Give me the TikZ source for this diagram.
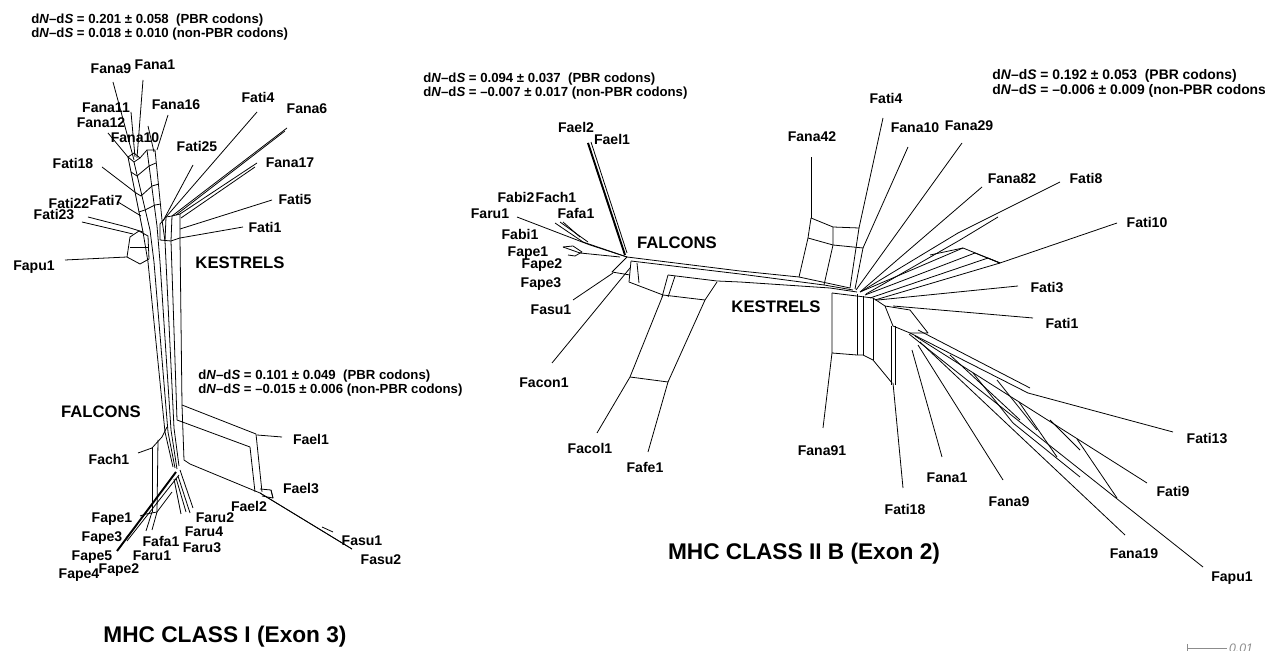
\documentclass[tikz,border=0pt]{standalone}
\usepackage{fontspec}
\setmainfont{Liberation Sans}
\begin{document}
\begin{tikzpicture}[x=0.02cm, y=-0.02cm, line join=round,
    net/.style={line width=0.45pt},
    heavynet/.style={line width=1.1pt},
    taxon/.style={font=\fontsize{8}{9}\selectfont\bfseries, inner sep=0pt, text height=5.8pt, text depth=0pt},
    clade/.style={font=\fontsize{9.5}{11}\selectfont\bfseries, inner sep=0pt},
    panel/.style={font=\fontsize{12.9}{15}\selectfont\bfseries, inner sep=0pt},
    dnds/.style={font=\fontsize{7.5}{8.4}\selectfont\bfseries, inner sep=0pt, align=left, anchor=west}]
  \useasboundingbox (0,0) rectangle (1265,651);

  % ---------- MHC class I (exon 3) ----------
  \foreach \name/\lx/\ly/\tx/\ty/\bx/\by in {
      Fana9/111/68/113/82/134/160, Fana1/155/64/143/80/137/158,
      Fana11/106/107/131/112/135/157, Fana16/176/104/168/115/157/150,
      Fana12/101/122/108/133/128/157, Fana10/135/137/148/126/154/152,
      Fati25/197/146/193/165/163/221, Fati4/258/97/257/112/166/217,
      Fana6/307/108/287/128/172/216, Fati18/73/163/102/167/136/193,
      Fana17/290/162/257/163/180/214, Fati5/295/199/272/200/180/229,
      Fati7/106/200/118/202/141/216, Fati22/69/203/88/217/127/227,
      Fati23/54/214/82/222/133/234, Fati1/265/227/243/227/180/238,
      Fapu1/34/265/65/260/127/257, Fael1/311/439/282/437/257/435,
      Fach1/109/459/138/453/152/448, Fael3/301/488/273/498/271/490,
      Fael2/249/506/260/493/260/493, Faru2/215/517/190/513/178/476,
      Faru4/204/531/186/512/176/478, Faru3/202/547/181/514/174/479,
      Fafa1/161/541/152/530/157/512, Faru1/152/555/146/531/152/512,
      Fape1/112/517/140/516/146/514, Fape3/102/536/126/538/131/532,
      Fape5/92/555/117/551/117/551, Fape4/79/573/117/552/117/552,
      Fape2/119/568/122/547/122/547, Fasu1/362/540/333/532/322/527,
      Fasu2/381/559/352/549/260/493} {
    \node[taxon] (a-\name) at (\lx,\ly) {\name};
    \coordinate (a-\name-tip) at (\tx,\ty);
    \draw[net] (\bx,\by) -- (a-\name-tip);
  }
  % kestrel web
  \draw[net] (128,157) -- (134,162) -- (140,158) -- (134,153) -- cycle;
  \draw[net] (140,158) -- (147,150) -- (155,150);
  \draw[net] (128,157) -- (143,232);
  \draw[net] (134,162) -- (150,230);
  \draw[net] (147,150) -- (157,226);
  \draw[net] (155,150) -- (162,220);
  \draw[net] (131,172) -- (137,176) -- (149,166) -- (156,163);
  \draw[net] (136,193) -- (141,196) -- (152,186) -- (159,184);
  \draw[net] (139,212) -- (145,210) -- (155,205) -- (161,204);
  \draw[net] (160,224) -- (166,217) -- (172,216) -- (180,214) -- (180,238) -- (171,241) -- (160,240) -- cycle;
  \draw[net] (166,217) -- (165,241);
  \draw[net] (172,216) -- (171,241);
  \draw[net] (285,131) -- (176,215);
  \draw[net] (255,167) -- (181,218);
  \draw[net] (127,257) -- (130,237) -- (139,231) -- (148,236) -- (149,259) -- (140,264) -- cycle;
  \draw[net] (130,247) -- (149,247);
  \draw[net] (127,227) -- (143,232);
  % trunk
  \draw[net] (143,232) -- (148,262) -- (165,432) -- (173,467);
  \draw[net] (150,230) -- (154,262) -- (168,432) -- (175,468);
  \draw[net] (157,226) -- (160,262) -- (171,430) -- (177,469);
  \draw[net] (162,220) -- (165,241) -- (174,428) -- (179,466);
  \draw[net] (171,241) -- (177,420) -- (250,447) -- (255,492);
  \draw[net] (180,238) -- (182,405) -- (256,434) -- (262,492);
  \draw[net] (182,405) -- (184,460) -- (190,464) -- (260,493) -- (352,549);
  % falcon web
  \draw[net] (260,489) -- (271,490) -- (273,498) -- (262,496);
  \draw[net] (152,448) -- (162,437) -- (167,427);
  \draw[net] (152,448) -- (152,512);
  \draw[net] (158,440) -- (157,512);
  \draw[heavynet] (176,472) -- (117,551);
  \draw[net] (179,475) -- (127,541);
  \draw[net] (146,514) -- (157,512) -- (172,492);
  \draw[net] (180,470) -- (193,508);
  \node[clade] (kestrelsI) at (240,263) {KESTRELS};
  \node[clade] (falconsI) at (101,412) {FALCONS};
  \node[dnds] (dndsKI) at (31,27) {d\textit{N}--d\textit{S} = 0.201 ± 0.058~~(PBR codons)\\d\textit{N}--d\textit{S} = 0.018 ± 0.010 (non-PBR codons)};
  \node[dnds] (dndsFI) at (198,383) {d\textit{N}--d\textit{S} = 0.101 ± 0.049~~(PBR codons)\\d\textit{N}--d\textit{S} = --0.015 ± 0.006 (non-PBR codons)};
  \node[panel] (titleI) at (225,637) {MHC CLASS I (Exon 3)};

  % ---------- MHC class II B (exon 2) ----------
  \foreach \name/\lx/\ly/\tx/\ty/\bx/\by in {
      Fael2/576/127/588/143/625/255, Fael1/612/139/591/142/627/253,
      Fabi2/516/197/555/223/583/242, Fach1/556/197/560/222/588/242,
      Faru1/490/213/517/217/590/245, Fafa1/576/213/563/222/580/237,
      Fabi1/520/234/563/247/563/247, Fape1/528/251/563/247/580/253,
      Fape2/542/263/568/255/568/255, Fape3/541/282/570/257/570/257,
      Fasu1/551/309/573/300/613/273, Facon1/544/382/552/363/630/268,
      Facol1/590/448/597/433/630/377, Fafe1/645/467/648/452/668/382,
      Fati4/886/98/883/118/859/228, Fana10/915/127/908/147/863/248,
      Fana29/969/125/962/143/856/290, Fana42/812/136/811/157/811/218,
      Fana82/1012/178/982/187/860/292, Fati8/1086/178/1060/182/958/233,
      Fati10/1147/222/1117/223/1000/263, Fati3/1047/287/1018/286/878/300,
      Fati1/1062/323/1033/318/893/306, Fati13/1207/438/1173/432/1028/393,
      Fana91/822/450/823/428/832/353, Fana1/947/477/942/457/912/350,
      Fati9/1173/491/1147/483/915/336, Fati18/905/509/903/488/893/383,
      Fana9/1009/501/1003/480/918/345, Fana19/1134/553/1125/535/920/342,
      Fapu1/1232/576/1203/567/909/334} {
    \node[taxon] (b-\name) at (\lx,\ly) {\name};
    \coordinate (b-\name-tip) at (\tx,\ty);
    \draw[net] (\bx,\by) -- (b-\name-tip);
  }
  % falcon side
  \draw[heavynet] (588,143) -- (625,255);
  \draw[net] (583,242) -- (627,257);
  \draw[net] (590,245) -- (627,257);
  \draw[net] (563,247) -- (573,246) -- (582,252) -- (575,256) -- (568,255);
  \draw[net] (580,253) -- (620,257);
  \draw[net] (627,257) -- (612,272) -- (630,275);
  \draw[net] (631,261) -- (629,282) -- (663,295) -- (705,300);
  \draw[net] (637,263) -- (639,283);
  \draw[net] (668,275) -- (662,297);
  \draw[net] (675,276) -- (668,297);
  \draw[net] (630,377) -- (663,295);
  \draw[net] (630,377) -- (668,382) -- (705,300) -- (717,282);
  % central band
  \draw[net] (627,257) -- (740,271) -- (799,277) -- (850,288);
  \draw[net] (631,261) -- (740,274) -- (824,285) -- (853,290);
  \draw[net] (668,275) -- (717,281) -- (740,282) -- (830,288) -- (857,292);
  % kestrel side
  \draw[net] (811,218) -- (833,227) -- (859,228);
  \draw[net] (808,238) -- (833,245) -- (863,248);
  \draw[net] (811,218) -- (808,238) -- (799,277);
  \draw[net] (833,227) -- (833,245) -- (824,285);
  \draw[net] (859,228) -- (850,288);
  \draw[net] (863,248) -- (855,289);
  \draw[net] (832,293) -- (873,298);
  \draw[net] (832,293) -- (832,353) -- (857,355) -- (863,355) -- (873,360) -- (892,383);
  \draw[net] (857,294) -- (857,355);
  \draw[net] (863,296) -- (863,355);
  \draw[net] (873,298) -- (873,360);
  \draw[net] (891,326) -- (891,385);
  \draw[net] (895,326) -- (895,385);
  \draw[net] (873,298) -- (885,306) -- (910,310) -- (928,333) -- (910,333) -- (893,326) -- (885,306);
  \draw[net] (860,292) -- (963,248) -- (1000,263);
  \draw[net] (865,295) -- (975,253) -- (1000,263);
  \draw[net] (870,298) -- (988,258) -- (1000,263);
  \draw[net] (875,300) -- (1000,263);
  \draw[net] (930,255) -- (963,248);
  \draw[net] (958,233) -- (862,291);
  \draw[net] (998,217) -- (960,240) -- (866,294);
  \draw[net] (1028,393) -- (910,333);
  \draw[net] (1030,388) -- (918,330);
  \draw[net] (973,373) -- (1013,423);
  \draw[net] (997,380) -- (1037,430);
  \draw[net] (1019,402) -- (1057,457);
  \draw[net] (1050,420) -- (1080,450);
  \draw[net] (1077,439) -- (1117,498);
  \draw[net] (950,355) -- (1020,420);
  \draw[net] (1013,423) -- (1080,477);
  \node[clade] (falconsII) at (677,243) {FALCONS};
  \node[clade] (kestrelsII) at (776,307) {KESTRELS};
  \node[dnds] (dndsFII) at (423,86) {d\textit{N}--d\textit{S} = 0.094 ± 0.037~~(PBR codons)\\d\textit{N}--d\textit{S} = --0.007 ± 0.017 (non-PBR codons)};
  \node[dnds, font=\fontsize{7.9}{8.6}\selectfont\bfseries] (dndsKII) at (992,83) {d\textit{N}--d\textit{S} = 0.192 ± 0.053~~(PBR codons)\\d\textit{N}--d\textit{S} = --0.006 ± 0.009 (non-PBR codons)};
  \node[panel] (titleII) at (804,554) {MHC CLASS II B (Exon 2)};

  % scale bar
  \coordinate (bar-a) at (1187,648);
  \coordinate (bar-b) at (1227,648);
  \draw[net, black!45] (1187,644) -- (1187,652);
  \draw[net, black!45] (bar-a) -- (bar-b);
  \node[font=\fontsize{7}{8}\selectfont\itshape, text=black!45, anchor=west, inner sep=1pt] (bar-label) at (bar-b) {0.01};
\end{tikzpicture}
\end{document}
